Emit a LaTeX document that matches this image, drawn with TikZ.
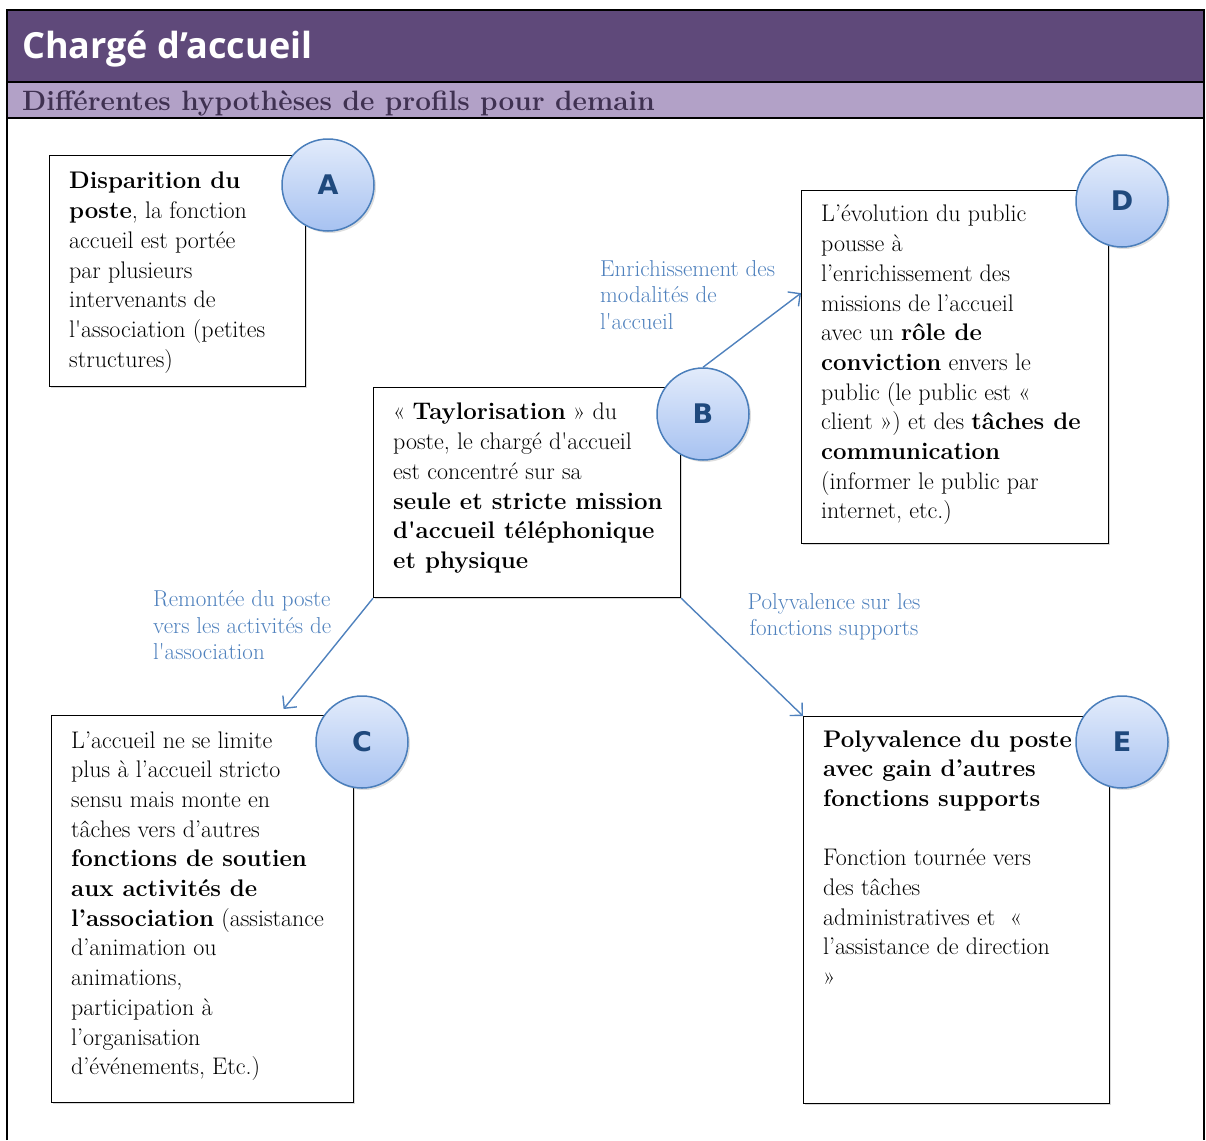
\documentclass[tikz,border=0pt]{standalone}
\usepackage{fontspec}
\usetikzlibrary{positioning,arrows.meta,shadows}
\newfontfamily\titlefont{Open Sans}
\newfontfamily\letterfont{DejaVu Sans}
\newcommand{\ap}{\textquotesingle}
\definecolor{headdark}{HTML}{5F497A}
\definecolor{headlight}{HTML}{B2A1C7}
\definecolor{headtext}{HTML}{3F3151}
\definecolor{linkblue}{HTML}{4F81BD}
\definecolor{bubbleline}{HTML}{4A7EBB}
\definecolor{bubbletop}{HTML}{E2EBFB}
\definecolor{bubblebottom}{HTML}{A7C2F1}
\definecolor{lettercolor}{HTML}{1F497D}

\begin{document}
\begin{tikzpicture}[x=1pt, y=-1pt, box/.style={draw, line width=1.2pt, fill=white, inner sep=0pt, anchor=north west, drop shadow={shadow xshift=1.5pt, shadow yshift=-1.5pt, opacity=.3}}, body/.style={inner sep=0pt, align=left, font=\fontsize{24}{29.7}\selectfont}, bubble/.style={circle, minimum size=92pt, inner sep=0pt, draw=bubbleline, line width=1.5pt, top color=bubbletop, bottom color=bubblebottom, drop shadow={shadow xshift=2pt, shadow yshift=-2pt, opacity=.25}, text=lettercolor, font=\letterfont\bfseries\fontsize{27}{27}\selectfont}, link/.style={draw=linkblue, line width=1.4pt, -{Straight Barb[length=9pt, width=18pt, line width=1.4pt]}}, note/.style={inner sep=0pt, align=left, text=linkblue, font=\fontsize{23}{26.5}\selectfont}]
\useasboundingbox (0,0) rectangle (1206,1140);
\fill[headdark] (7,10) rectangle (1204,82);
\fill[headlight] (7,82) rectangle (1204,118);
\draw[line width=1.5pt] (7,82) -- (1204,82) (7,118) -- (1204,118);
\draw[line width=2.5pt] (7,1140) -- (7,10) -- (1204,10) -- (1204,1140);
\node[anchor=base west, inner sep=0pt, text=white, font=\titlefont\bfseries\fontsize{36}{36}\selectfont] (title) at (22,59) {Chargé d’accueil};
\node[anchor=base west, inner sep=0pt, text=headtext, font=\bfseries\fontsize{28}{28}\selectfont] (subtitle) at (22,110) {Différentes hypothèses de profils pour demain};

\node[box, minimum width=256pt, minimum height=231pt] (disparition) at (49,155) {};
\node[box, minimum width=307pt, minimum height=210pt] (taylorisation) at (373,387) {};
\node[box, minimum width=302pt, minimum height=387pt] (remontee) at (51,715) {};
\node[box, minimum width=307pt, minimum height=353pt] (evolution) at (801,190) {};
\node[box, minimum width=306pt, minimum height=387pt] (polyvalence) at (803,716) {};

\node[body, below right=13pt and 20pt of disparition.north west] (disparitiontext) {\strut\textbf{Disparition du}\\\textbf{poste}, la fonction\\accueil est portée\\par plusieurs\\intervenants de\\l\ap association (petites\\structures)};
\node[body, below right=12pt and 20pt of taylorisation.north west] (taylorisationtext) {\strut« \textbf{Taylorisation} » du\\poste, le chargé d\ap accueil\\est concentré sur sa\\\textbf{seule et stricte mission}\\\textbf{d\ap accueil téléphonique}\\\textbf{et physique}};
\node[body, below right=12pt and 20pt of remontee.north west] (remonteetext) {\strut L’accueil ne se limite\\plus à l’accueil stricto\\sensu mais monte en\\tâches vers d’autres\\\textbf{fonctions de soutien}\\\textbf{aux activités de}\\\textbf{l’association} (assistance\\d’animation ou\\animations,\\participation à\\l’organisation\\d’événements, Etc.)};
\node[body, below right=11pt and 20pt of evolution.north west] (evolutiontext) {\strut L’évolution du public\\pousse à\\l’enrichissement des\\missions de l’accueil\\avec un \textbf{rôle de}\\\textbf{conviction} envers le\\public (le public est «\\client ») et des \textbf{tâches de}\\\textbf{communication}\\(informer le public par\\internet, etc.)};
\node[body, below right=10pt and 20pt of polyvalence.north west] (polyvalencetext) {\strut\textbf{Polyvalence du poste}\\\textbf{avec gain d’autres}\\\textbf{fonctions supports}\\[29.7pt]Fonction tournée vers\\des tâches\\administratives et ~«\\l’assistance de direction\\»};

\draw[link] (taylorisation.south west) -- ([xshift=81pt, yshift=6pt]remontee.north);
\draw[link] (taylorisation.south east) -- (polyvalence.north west);
\node[bubble] (marka) at (328,185) {A};
\node[bubble] (markb) at (703,414) {B};
\node[bubble] (markc) at (362,742) {C};
\node[bubble] (markd) at (1122,201) {D};
\node[bubble] (marke) at (1122,742) {E};
\draw[link] (markb.north) -- ([yshift=74pt]evolution.west);

\node[note, anchor=north west] (enrichissement) at (600,257.5) {\strut Enrichissement des\\modalités de\\l\ap accueil};
\node[note, anchor=north west] (remonteelabel) at (153,588) {\strut Remontée du poste\\vers les activités de\\l\ap association};
\node[note, align=center, anchor=north] (polyvalencelabel) at (834,590.5) {\strut Polyvalence sur les\\fonctions supports};
\end{tikzpicture}
\end{document}
